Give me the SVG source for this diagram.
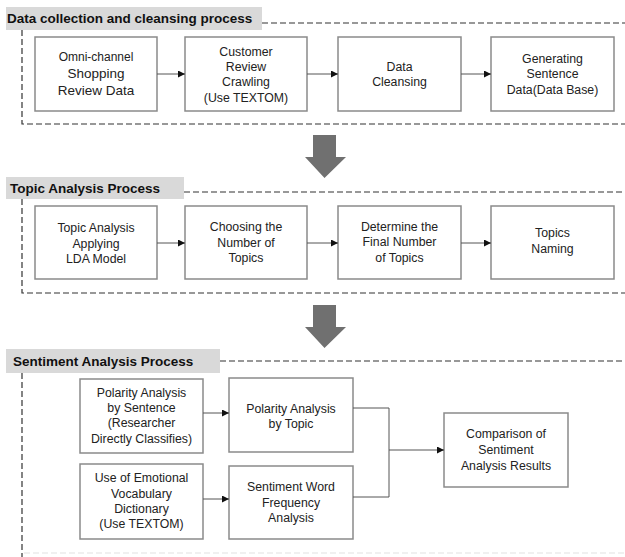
<svg xmlns="http://www.w3.org/2000/svg" width="625" height="557" viewBox="0 0 625 557">
<defs>
<style>
.title{font-family:"Liberation Sans",Arial,sans-serif;font-weight:bold;font-size:13.5px;fill:#111}
.tbox{fill:#d9d9d9}
.dash{fill:none;stroke:#333;stroke-width:1.2;stroke-dasharray:6,3}
.faint{fill:none;stroke:#e2e2e2;stroke-width:1.2;stroke-dasharray:6,3}
.box{fill:#fff;stroke:#8a8a8a;stroke-width:1.5}
.lbl{font-family:"Liberation Sans",Arial,sans-serif;font-size:12.3px;fill:#222;text-anchor:middle}
.big{font-size:13.5px}
.conn{fill:none;stroke:#555;stroke-width:1}
.bigarrow{fill:#707070}
</style>
<marker id="ah" viewBox="0 0 10 10" refX="10" refY="5" markerWidth="7" markerHeight="7" markerUnits="userSpaceOnUse" orient="auto">
<path d="M0,0 L10,5 L0,10 z" fill="#111"/>
</marker>
</defs>
<rect width="625" height="557" fill="#fff"/>

<!-- Section 1 frame -->
<g id="section1">
<rect class="tbox" x="6" y="7" width="256" height="23"/>
<text class="title" x="7" y="23">Data collection and cleansing process</text>
<path class="dash" d="M262,23 H625 M22,30 V124 H625"/>
</g>

<!-- Section 2 frame -->
<g id="section2">
<rect class="tbox" x="6" y="177" width="178" height="22"/>
<text class="title" x="10" y="193">Topic Analysis Process</text>
<path class="dash" d="M184,192 H625 M22,199 V293 H625"/>
</g>

<!-- Section 3 frame -->
<g id="section3">
<rect class="tbox" x="6" y="349" width="214" height="24"/>
<text class="title" x="13" y="366">Sentiment Analysis Process</text>
<path class="dash" d="M220,361 H625 M22,373 V557"/>
<path class="faint" d="M24,553 H625"/>
</g>

<!-- Big arrows -->
<g id="bigarrow1"><path class="bigarrow" d="M313,135 H336 V157 H346 L324.5,178 L305,157 H313 Z"/></g>
<g id="bigarrow2"><path class="bigarrow" d="M313,305 H336 V327 H346 L324.5,348 L305,327 H313 Z"/></g>

<!-- Section 1 nodes -->
<g id="n1"><rect class="box" x="35" y="37" width="122" height="74"/>
<text class="lbl" x="96" y="61" style="font-size:12px">Omni-channel</text>
<text class="lbl big" x="96" y="78">Shopping</text>
<text class="lbl big" x="96" y="95">Review Data</text></g>
<g id="n2"><rect class="box" x="185" y="37" width="122" height="74"/>
<text class="lbl" x="246" y="56">Customer</text>
<text class="lbl" x="246" y="71">Review</text>
<text class="lbl" x="246" y="86">Crawling</text>
<text class="lbl" x="246" y="102">(Use TEXTOM)</text></g>
<g id="n3"><rect class="box" x="338" y="37" width="123" height="74"/>
<text class="lbl" x="399.5" y="71">Data</text>
<text class="lbl" x="399.5" y="86">Cleansing</text></g>
<g id="n4"><rect class="box" x="491" y="37" width="123" height="74"/>
<text class="lbl" x="552.5" y="63">Generating</text>
<text class="lbl" x="552.5" y="78">Sentence</text>
<text class="lbl" x="552.5" y="94">Data(Data Base)</text></g>

<!-- Section 2 nodes -->
<g id="t1"><rect class="box" x="35" y="206" width="122" height="73"/>
<text class="lbl" x="96" y="232">Topic Analysis</text>
<text class="lbl" x="96" y="248">Applying</text>
<text class="lbl" x="96" y="263">LDA Model</text></g>
<g id="t2"><rect class="box" x="185" y="206" width="122" height="73"/>
<text class="lbl" x="246" y="231">Choosing the</text>
<text class="lbl" x="246" y="247">Number of</text>
<text class="lbl" x="246" y="262">Topics</text></g>
<g id="t3"><rect class="box" x="338" y="206" width="123" height="73"/>
<text class="lbl" x="399.5" y="231">Determine the</text>
<text class="lbl" x="399.5" y="246">Final Number</text>
<text class="lbl" x="399.5" y="262">of Topics</text></g>
<g id="t4"><rect class="box" x="491" y="206" width="123" height="73"/>
<text class="lbl" x="552.5" y="237">Topics</text>
<text class="lbl" x="552.5" y="253">Naming</text></g>

<!-- Section 3 nodes -->
<g id="s1"><rect class="box" x="80" y="379" width="123" height="74"/>
<text class="lbl" x="141.5" y="397">Polarity Analysis</text>
<text class="lbl" x="141.5" y="412">by Sentence</text>
<text class="lbl" x="141.5" y="427">(Researcher</text>
<text class="lbl" x="141.5" y="443">Directly Classifies)</text></g>
<g id="s2"><rect class="box" x="229" y="378" width="124" height="74"/>
<text class="lbl" x="291" y="413">Polarity Analysis</text>
<text class="lbl" x="291" y="428">by Topic</text></g>
<g id="s3"><rect class="box" x="80" y="464" width="123" height="75"/>
<text class="lbl" x="141.5" y="482">Use of Emotional</text>
<text class="lbl" x="141.5" y="498">Vocabulary</text>
<text class="lbl" x="141.5" y="513">Dictionary</text>
<text class="lbl" x="141.5" y="528">(Use TEXTOM)</text></g>
<g id="s4"><rect class="box" x="229" y="466" width="124" height="73"/>
<text class="lbl" x="291" y="491">Sentiment Word</text>
<text class="lbl" x="291" y="507">Frequency</text>
<text class="lbl" x="291" y="522">Analysis</text></g>
<g id="s5"><rect class="box" x="444" y="413" width="124" height="74"/>
<text class="lbl" x="506" y="438">Comparison of</text>
<text class="lbl" x="506" y="454">Sentiment</text>
<text class="lbl" x="506" y="470">Analysis Results</text></g>

<!-- Connectors -->
<g id="connectors">
<path class="conn" d="M157,74 H185" marker-end="url(#ah)"/>
<path class="conn" d="M307,74 H338" marker-end="url(#ah)"/>
<path class="conn" d="M461,74 H491" marker-end="url(#ah)"/>
<path class="conn" d="M157,243 H185" marker-end="url(#ah)"/>
<path class="conn" d="M307,243 H338" marker-end="url(#ah)"/>
<path class="conn" d="M461,243 H491" marker-end="url(#ah)"/>
<path class="conn" d="M203,413 H229" marker-end="url(#ah)"/>
<path class="conn" d="M203,499 H229" marker-end="url(#ah)"/>
<path class="conn" d="M353,408 H389 V497 H353"/>
<path class="conn" d="M389,450 H444" marker-end="url(#ah)"/>
</g>
</svg>
